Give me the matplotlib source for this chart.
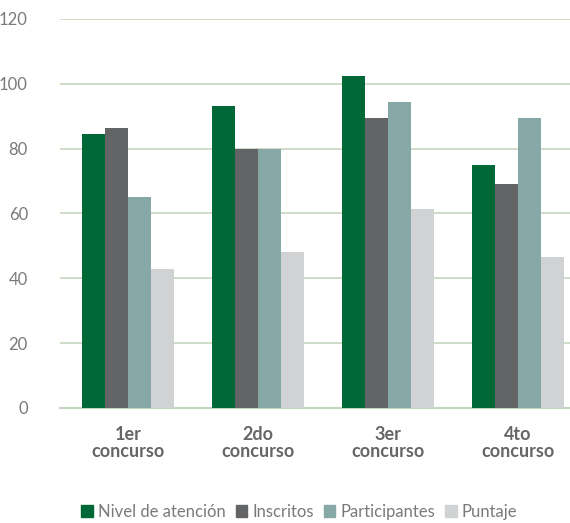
import numpy as np
import matplotlib.pyplot as plt
from matplotlib.patches import Patch

# Chart data
categories = ["1er\nconcurso", "2do\nconcurso", "3er\nconcurso", "4to\nconcurso"]
series_names = ["Nivel de atención", "Inscritos", "Participantes", "Puntaje"]
nivel_atencion = [84.5, 93, 102.5, 75]
inscritos = [86.5, 80, 89.5, 69]
participantes = [65, 80, 94.5, 89.5]
puntaje = [43, 48, 61.5, 46.5]
y_ticks = [0, 20, 40, 60, 80, 100, 120]

colors = ["#006837", "#636466", "#86a8a6", "#d1d2d4"]
grid_color = "#c5d6c0"
text_color = "#7a7a7a"

plt.rcParams['font.family'] = ['Lato', 'DejaVu Sans']

fig = plt.figure(figsize=(5.7, 5.23), dpi=100)
ax = fig.add_axes([0.105, 0.22, 0.895, 0.7437])

x = np.arange(len(categories))
width = 0.177
all_series = [nivel_atencion, inscritos, participantes, puntaje]
for i, vals in enumerate(all_series):
    ax.bar(x + (i - 1.5) * width, vals, width, color=colors[i],
           label=series_names[i], zorder=3)

ax.set_ylim(0, 120)
ax.set_xlim(-0.527, 3.4)
ax.set_yticks(y_ticks)
ax.yaxis.grid(True, color=grid_color, linewidth=1.2, zorder=0)
ax.set_axisbelow(True)
for side in ['top', 'right', 'left']:
    ax.spines[side].set_visible(False)
ax.spines['bottom'].set_color(grid_color)
ax.spines['bottom'].set_linewidth(1.5)
ax.tick_params(axis='y', length=0, pad=23, labelsize=12, labelcolor=text_color)
ax.tick_params(axis='x', length=0, pad=13)
ax.set_xticks(x)
ax.set_xticklabels(categories, fontsize=13, fontweight='bold',
                   color="#666666", linespacing=1.0)

handles = [Patch(color=c) for c in colors]
fig.legend(handles, series_names, loc='lower center', ncol=4,
           bbox_to_anchor=(0.525, -0.022), frameon=False, fontsize=12,
           labelcolor=text_color, handlelength=0.7, handleheight=0.7,
           handletextpad=0.3, columnspacing=0.6)

fig.savefig("out.png", dpi=100)
